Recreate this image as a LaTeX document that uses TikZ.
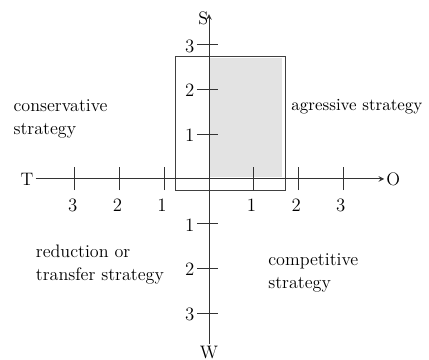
\documentclass[tikz,border=0pt]{standalone}
\usepackage{amsmath}
\usepackage{tikz}

\begin{document}
\begin{tikzpicture}[>=stealth, line width=0.6pt, draw=black!80,
                    font=\fontsize{11.5}{14.6}\selectfont]
                \useasboundingbox (-4.676,-4.049) rectangle (4.922,4.004);

                % shaded area and frame
                \fill[gray!22] (0,0.04) rectangle (1.63,2.71);
                \draw[black!75] (-0.76,-0.25) rectangle (1.72,2.75);

                % axes
                \node[inner sep=1pt] (T) at (-4.07,0) {T};
                \node[inner sep=1pt] (O) at (4.12,0) {O};
                \node[inner sep=1pt] (S) at (-0.13,3.6) {S};
                \node[inner sep=1pt] (W) at (0,-3.88) {W};
                \coordinate (Stop) at (0,3.69);
                \draw[->, black!80] (T.east) -- (O.west);
                \draw[->, black!80] (W.north) -- (Stop);

                \foreach \x/\lab in {-3/3, -2/2, -1/1, 1/1, 2/2, 3/3} {
                    \draw[black!80] (\x,-0.25) -- (\x,0.27);
                    \node (xl\x) at (\x-0.05,-0.6) {$\lab$};
                }
                \foreach \y/\lab in {3/3, 2/2, 1/1, -1/1, -2/2, -3/3} {
                    \draw[black!80] (-0.27,\y) -- (0.2,\y);
                    \node (yl\y) at (-0.43,\y-0.03) {$\lab$};
                }

                % strategies
                \node[anchor=west, align=left] (cons) at (-4.5,1.35) {conservative\\strategy};
                \node[anchor=west, inner sep=1pt, font=\fontsize{10.8}{13}\selectfont] (aggr) at (1.8,1.61) {agressive strategy};
                \node[anchor=west, align=left] (redu) at (-4.0,-1.92) {reduction or\\transfer strategy};
                \node[anchor=west, align=left] (comp) at (1.2,-2.11) {competitive\\strategy};
\end{tikzpicture}
\end{document}
